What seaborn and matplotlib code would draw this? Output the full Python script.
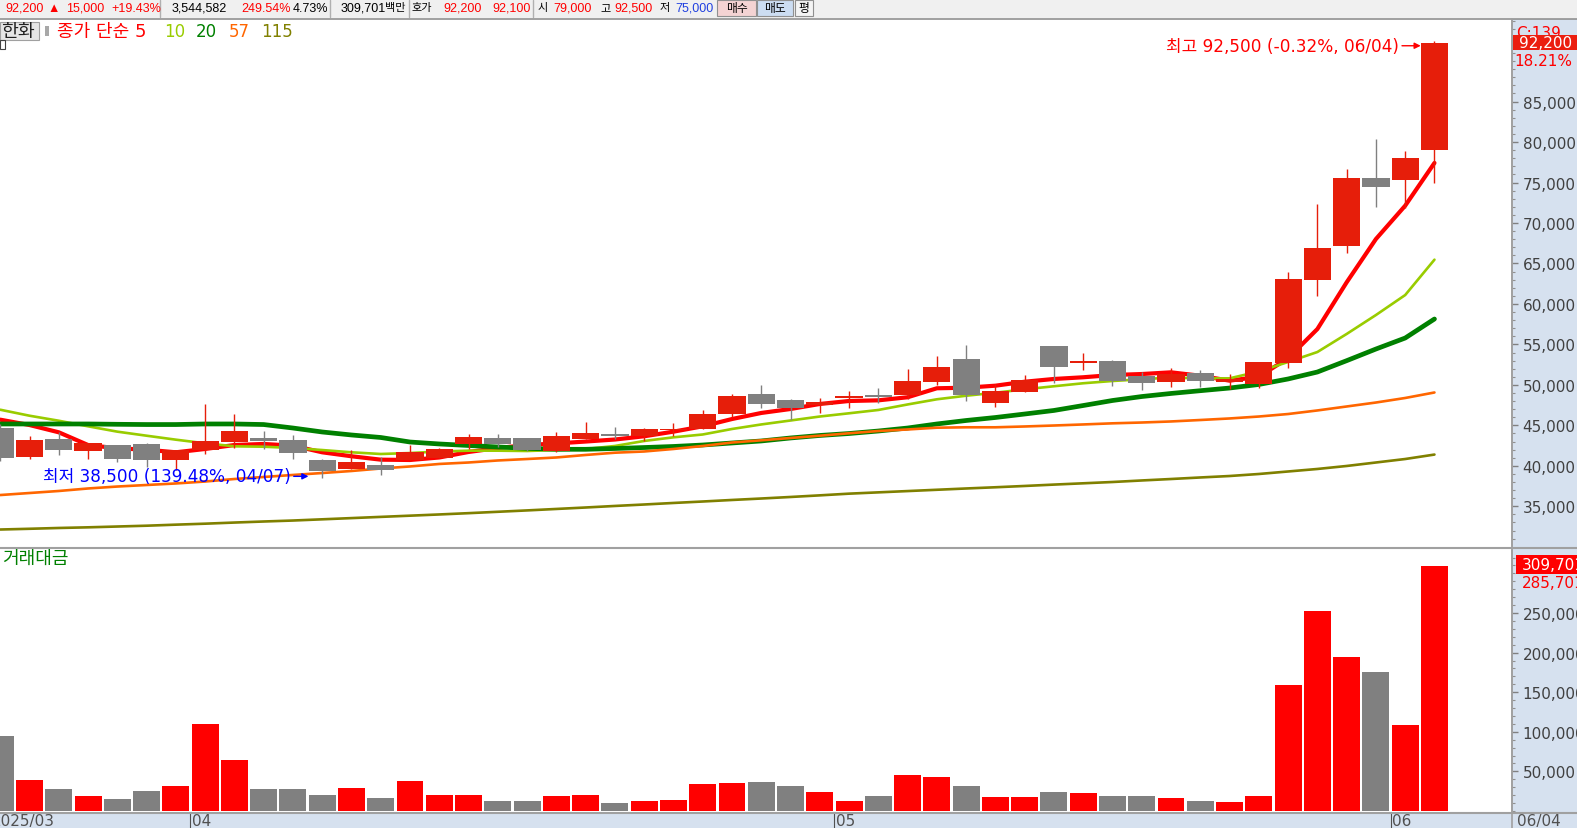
import numpy as np
import pandas as pd
import matplotlib.pyplot as plt
import matplotlib.ticker as mticker
from matplotlib.patches import Rectangle
from matplotlib.lines import Line2D
from matplotlib.transforms import blended_transform_factory
import seaborn as sns

sns.set_style("white")
plt.rcParams["font.family"] = ["DejaVu Sans", "Noto Sans CJK KR"]
plt.rcParams["axes.unicode_minus"] = False

# --- data (한화, daily) ---
dates = (["2025-03-21", "2025-03-24", "2025-03-25", "2025-03-26", "2025-03-27", "2025-03-28", "2025-03-31"]
         + ["2025-04-%02d" % d for d in [1, 2, 3, 4, 7, 8, 9, 10, 11, 14, 15, 16, 17, 18, 21, 22, 23, 24, 25, 28, 29, 30]]
         + ["2025-05-%02d" % d for d in [2, 7, 8, 9, 12, 13, 14, 15, 16, 19, 20, 21, 22, 23, 26, 27, 28, 29, 30]]
         + ["2025-06-02", "2025-06-04"])

opens = [44670, 41130, 43310, 41870, 42570, 42700, 40720, 41950, 42940, 43440,
         43190, 40720, 39610, 40140, 40760, 41000, 42700, 43440, 43440, 41830,
         43310, 43930, 43650, 44400, 44550, 46400, 48870, 48130, 47480, 48380,
         48750, 48750, 50360, 53200, 47760, 49120, 54800, 52670, 52950, 51100,
         50360, 51470, 50360, 50110, 52700, 62960, 67160, 75560, 75310, 79000]
highs = [45170, 43680, 44180, 42820, 42570, 42820, 41950, 47640, 46400, 44300,
         43810, 40840, 41950, 41090, 42620, 42200, 43930, 43930, 43440, 44180,
         45410, 44800, 44670, 45290, 46900, 48870, 49990, 48260, 48380, 49240,
         49620, 51960, 53570, 54930, 50110, 51220, 54800, 53940, 53110, 51590,
         52090, 51840, 51340, 52830, 63950, 72350, 76670, 80380, 78900, 92500]
lows = [40600, 40840, 41340, 40840, 40510, 39820, 39470, 41460, 42200, 42080,
        40840, 38500, 39610, 38890, 40760, 41000, 42080, 42360, 41830, 41710,
        43310, 43310, 43100, 43720, 44550, 46000, 47140, 45660, 46530, 47140,
        47700, 48260, 49990, 48010, 47270, 49120, 50270, 51840, 49820, 49410,
        49740, 49740, 49490, 49610, 52090, 60980, 66290, 71980, 71800, 75000]
closes = [40970, 43190, 41950, 42780, 40840, 40720, 41950, 43070, 44300, 43100,
          41580, 39400, 40510, 39520, 41740, 42080, 43560, 42700, 41950, 43680,
          44060, 43680, 44550, 44550, 46400, 48630, 47640, 47140, 47880, 48630,
          48500, 50480, 52210, 48750, 49240, 50600, 52250, 52950, 50480, 50230,
          51340, 50480, 50730, 52830, 63080, 66910, 75560, 74450, 78000, 92200]

# 거래대금 (백만원)
turnover = [94500, 38700, 27300, 18400, 14600, 24700, 31000, 109700, 64000, 27300,
            27300, 19700, 28500, 15900, 37400, 20000, 19700, 12000, 12000, 18400,
            19700, 9500, 12000, 13300, 33600, 34900, 36100, 31000, 23400, 12000,
            18400, 45000, 42500, 31000, 17100, 17100, 23400, 22200, 18400, 18400,
            15900, 12000, 10800, 18400, 159000, 253000, 195000, 176000, 108500, 309701]

ma5 = [45700, 45040, 44140, 42570, 42160, 41990, 41670, 42080, 42570, 42700,
       42490, 41670, 41180, 40760, 40720, 41030, 41710, 42200, 42570, 42760,
       43000, 43250, 43650, 44220, 44880, 45780, 46530, 47020, 47640, 48010,
       48090, 48470, 49580, 49650, 49900, 50390, 50730, 50940, 51220, 51340,
       51550, 51130, 50520, 51000, 53300, 56900, 62670, 68020, 72140, 77420]
ma10 = [46930, 46190, 45570, 44880, 44220, 43720, 43230, 42780, 42410, 42360,
        42200, 41950, 41670, 41460, 41580, 41770, 41870, 41870, 41830, 41950,
        42080, 42450, 43070, 43520, 43870, 44550, 45110, 45600, 46090, 46490,
        46900, 47580, 48220, 48660, 49030, 49450, 49830, 50200, 50480, 50690,
        50910, 50790, 50810, 51650, 52830, 54060, 56290, 58630, 61100, 65470]
ma20 = [45170, 45170, 45170, 45170, 45130, 45100, 45100, 45170, 45170, 45100,
        44670, 44180, 43810, 43500, 42940, 42700, 42510, 42330, 42160, 42040,
        42040, 42140, 42260, 42390, 42570, 42820, 43070, 43440, 43750, 43990,
        44300, 44670, 45170, 45600, 45970, 46400, 46840, 47450, 48070, 48560,
        48940, 49280, 49610, 50050, 50730, 51590, 52990, 54430, 55790, 58140]
ma57 = [36390, 36640, 36890, 37200, 37440, 37630, 37820, 38060, 38370, 38620,
        38870, 39110, 39360, 39670, 39920, 40230, 40410, 40660, 40840, 41030,
        41340, 41620, 41770, 42080, 42450, 42880, 43150, 43440, 43720, 44020,
        44300, 44490, 44710, 44760, 44760, 44860, 44980, 45110, 45250, 45350,
        45480, 45660, 45850, 46090, 46400, 46840, 47330, 47820, 48380, 49060]
ma115 = [32130, 32220, 32320, 32400, 32500, 32600, 32730, 32850, 32990, 33120,
         33240, 33390, 33540, 33690, 33840, 33990, 34150, 34320, 34490, 34670,
         34850, 35040, 35220, 35410, 35590, 35780, 35960, 36150, 36350, 36560,
         36720, 36880, 37040, 37200, 37350, 37510, 37680, 37840, 38000, 38190,
         38370, 38560, 38740, 38990, 39300, 39610, 39980, 40410, 40840, 41390]

price_ticks = [35000, 40000, 45000, 50000, 55000, 60000, 65000, 70000, 75000, 80000, 85000]
vol_ticks = [50000, 100000, 150000, 200000, 250000]

RED = "#FF0000"
CANDLE_RED = "#E61E0A"
GRAY = "#808080"
PANEL = "#D6E1EF"
LINE = "#A0A0A0"

df = pd.DataFrame({"date": pd.to_datetime(dates), "open": opens, "high": highs,
                   "low": lows, "close": closes, "turnover": turnover})
df["idx"] = np.arange(len(df))
df["dir"] = np.where(df["close"] >= df["open"], "up", "down")

W, H = 1577, 829
def fx(x):
    return x / W
def fy(y):
    return 1 - y / H

fig = plt.figure(figsize=(W / 100, H / 100), dpi=100)

def rect(x0, y0, x1, y1, **kw):
    fig.add_artist(Rectangle((fx(x0), fy(y1)), fx(x1) - fx(x0), fy(y0) - fy(y1),
                             transform=fig.transFigure, **kw))

def hline(y, x0=0, x1=W, **kw):
    fig.add_artist(Line2D([fx(x0), fx(x1)], [fy(y), fy(y)], transform=fig.transFigure, **kw))

def vline(x, y0, y1, **kw):
    fig.add_artist(Line2D([fx(x), fx(x)], [fy(y0), fy(y1)], transform=fig.transFigure, **kw))

# backgrounds: toolbar, right scale panel, date strip
rect(0, 0, W, 19, facecolor="#F0F0F0", edgecolor="none", zorder=-2)
rect(1512, 20, W, H, facecolor=PANEL, edgecolor="none", zorder=-2)
rect(0, 813, W, H, facecolor=PANEL, edgecolor="none", zorder=-2)

ax = fig.add_axes([0, fy(547), 1512 / W, (547 - 21) / H])
axv = fig.add_axes([0, fy(813), 1512 / W, (813 - 551) / H])

# --- price panel ---
ma_styles = [(ma5, "#FF0000", 3.0), (ma10, "#99CC00", 1.9), (ma20, "#008000", 3.4),
             (ma57, "#FF6600", 1.9), (ma115, "#808000", 1.9)]
for vals, col, lw in ma_styles:
    sns.lineplot(x=df["idx"], y=vals, color=col, linewidth=lw, ax=ax, zorder=3)

ccol = np.where(df["dir"] == "up", CANDLE_RED, GRAY)
ax.vlines(df["idx"], df["low"], df["high"], colors=ccol, linewidth=1.0, zorder=4)
ax.bar(df["idx"], (df["close"] - df["open"]).abs(), bottom=df[["open", "close"]].min(axis=1),
       width=0.93, color=ccol, linewidth=0, zorder=5)

hi_i = int(df["high"].idxmax())
lo_i = int(df["low"].idxmin())
ax.annotate(f"최고 {df['high'][hi_i]:,} (-0.32%, 06/04)", xy=(hi_i - 0.47, 91900),
            xytext=(-22, 0), textcoords="offset pixels", ha="right", va="center",
            color=RED, fontsize=12.2, zorder=6,
            arrowprops=dict(arrowstyle="-|>", color=RED, lw=1.0, shrinkA=0, shrinkB=0, mutation_scale=9))
ax.annotate(f"최저 {df['low'][lo_i]:,} (139.48%, 04/07)", xy=(lo_i - 0.47, 38700),
            xytext=(-18, 0), textcoords="offset pixels", ha="right", va="center",
            color="#0000FF", fontsize=12.2, zorder=6,
            arrowprops=dict(arrowstyle="-|>", color="#0000FF", lw=1.0, shrinkA=0, shrinkB=0, mutation_scale=9))

xlim = (-0.008, 51.649)
fmt = mticker.FuncFormatter(lambda v, p: f"{v:,.0f}")
for a in (ax, axv):
    a.set_xlim(*xlim)
    a.set_xticks([])
    a.set_xlabel("")
    a.set_ylabel("")
    a.yaxis.tick_right()
    a.yaxis.set_major_formatter(fmt)
    for s in ("left", "top", "bottom"):
        a.spines[s].set_visible(False)
    a.spines["right"].set_color(LINE)
    a.spines["right"].set_linewidth(1.2)
    a.tick_params(axis="y", which="major", direction="out", length=4, width=1, color="#808080",
                  pad=3.6, labelsize=11, labelcolor="#404040")
    a.tick_params(axis="y", which="minor", direction="out", length=2.2, width=0.8, color="#909090")

ax.set_ylim(30093, 95081)
ax.set_yticks(price_ticks)
ax.yaxis.set_minor_locator(mticker.MultipleLocator(1000))

# --- 거래대금 panel ---
sns.barplot(data=df, x="idx", y="turnover", hue="dir", palette={"up": RED, "down": GRAY},
            native_scale=True, dodge=False, width=0.92, saturation=1, errorbar=None,
            linewidth=0, legend=False, ax=axv)
axv.set_xlim(*xlim)
axv.set_xlabel("")
axv.set_ylabel("")
axv.set_ylim(-1263, 329545)
axv.set_yticks(vol_ticks)
axv.yaxis.set_minor_locator(mticker.MultipleLocator(10000))

# --- frame lines ---
hline(19.5, color="#909090", lw=1.2, zorder=3)
hline(548.5, color=LINE, lw=1.5, zorder=3)
hline(813.5, color=LINE, lw=1.5, zorder=3)
vline(1512, 20, H, color=LINE, lw=1.2, zorder=3)

# --- date strip ---
trans = blended_transform_factory(axv.transData, fig.transFigure)
month = df["date"].dt.month
starts = df.index[month != month.shift()].tolist()
for s in starts:
    if s == 0:
        axv.text(-0.3, fy(821.5), df["date"][s].strftime("%Y/%m"), transform=trans, ha="left",
                 va="center", fontsize=11, color="#505050", clip_on=False)
    else:
        axv.add_artist(Line2D([s - 0.5, s - 0.5], [fy(814), fy(829)], transform=trans,
                              color="#505050", lw=0.8, clip_on=False))
        axv.text(s - 0.45, fy(821.5), df["date"][s].strftime("%m"), transform=trans, ha="left",
                 va="center", fontsize=11, color="#505050", clip_on=False)
fig.text(fx(1517), fy(821.5), df["date"].iloc[-1].strftime("%m/%d"), ha="left", va="center",
         fontsize=11, color="#505050")

# --- right scale markers ---
fig.text(fx(1516), fy(33), "C:139", ha="left", va="center", fontsize=11, color=RED, zorder=4)
rect(1513, 35.5, W, 51, facecolor="#EB1E0F", edgecolor="none", zorder=5)
fig.text(fx(1519), fy(43.5), f"{closes[-1]:,}", ha="left", va="center", fontsize=11, color="white", zorder=6)
fig.text(fx(1514), fy(62), "18.21%", ha="left", va="center", fontsize=11, color=RED, zorder=6)
rect(1516, 556, W, 575, facecolor=RED, edgecolor="none", zorder=5)
fig.text(fx(1522), fy(565.5), f"{turnover[-1]:,}", ha="left", va="center", fontsize=11, color="white", zorder=6)
fig.text(fx(1522), fy(584), "285,701", ha="left", va="center", fontsize=11, color=RED, zorder=6)

# --- legend row ---
rect(0, 23, 39, 41, facecolor="#E6E6E6", edgecolor="#A0A0A0", linewidth=0.8, zorder=4)
fig.text(fx(1), fy(32), "한화", ha="left", va="center", fontsize=13.2, color="#202020", zorder=5)
rect(45, 27, 49, 37, facecolor="#A8A8A8", edgecolor="none", zorder=4)
rect(0, 41, 5, 50, facecolor="none", edgecolor="#404040", linewidth=0.8, zorder=4)
legend_items = [(57, "종가 단순 5", "#FF0000", 13), (164, "10", "#99CC00", 12), (196, "20", "#008000", 12),
                (229, "57", "#FF6600", 12), (261, "115", "#808000", 12)]
for x, s, c, fs in legend_items:
    fig.text(fx(x), fy(32), s, ha="left", va="center", fontsize=fs, color=c, zorder=5)
fig.text(fx(2), fy(559), "거래대금", ha="left", va="center", fontsize=13, color="#008000", zorder=5)

# --- top toolbar ---
BLUE = "#2040E0"
tb_font = ["Liberation Sans", "DejaVu Sans", "Noto Sans CJK KR"]
tb_items = [(5, "92,200", RED, 9), (47, "▲", RED, 9), (66, "15,000", RED, 9), (111, "+19.43%", RED, 9),
            (172, "3,544,582", "black", 9), (241, "249.54%", RED, 9), (293, "4.73%", "black", 9),
            (341, "309,701", "black", 9), (385, "백만", "black", 8), (411, "호가", "black", 8),
            (443, "92,200", RED, 9), (492, "92,100", RED, 9), (537, "시", "black", 8),
            (553, "79,000", RED, 9), (600, "고", "black", 8), (614, "92,500", RED, 9),
            (660, "저", "black", 8), (675, "75,000", BLUE, 9)]
for x, s, c, fs in tb_items:
    fig.text(fx(x), fy(8.5), s, ha="left", va="center", fontsize=fs, color=c, family=tb_font)
for x in (160, 330, 409, 533):
    vline(x, 1, 18, color="#B0B0B0", lw=1.0)
buttons = [(717, 756, "매수", "#F4D3D3"), (757, 793, "매도", "#CCDDF2"), (795, 813, "평", "#F4F4F4")]
for x0, x1, s, c in buttons:
    rect(x0, 1, x1, 17, facecolor=c, edgecolor="#909090", linewidth=0.8, zorder=2)
    fig.text(fx((x0 + x1) / 2), fy(9), s, ha="center", va="center", fontsize=8.5,
             color="black", family=tb_font, zorder=3)

fig.savefig("out.png", dpi=100)
